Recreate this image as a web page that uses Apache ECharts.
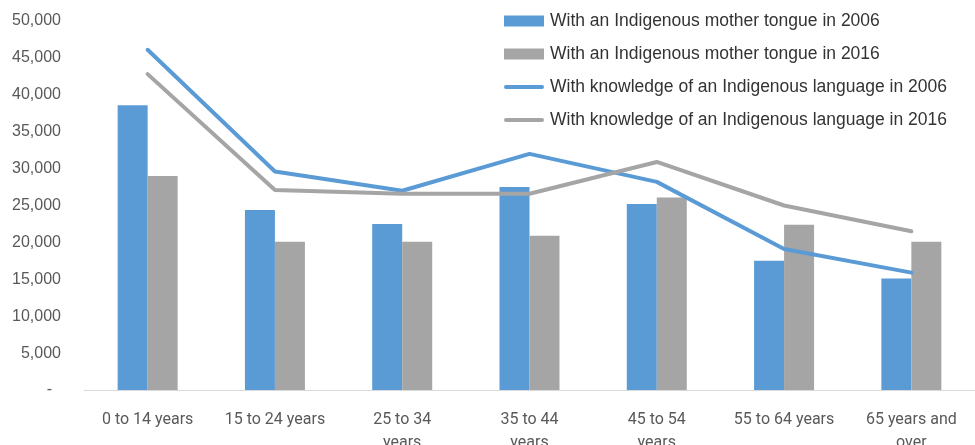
<!DOCTYPE html>
<html>
<head>
<meta charset="utf-8">
<script src="https://cdn.jsdelivr.net/npm/echarts@6/dist/echarts.min.js"></script>
<style>
  html, body { margin: 0; padding: 0; background: #fff; }
  #chart { width: 975px; height: 445px; }
</style>
</head>
<body>
<div id="chart"></div>
<script>
var categories = ['0 to 14 years', '15 to 24 years', '25 to 34\nyears', '35 to 44\nyears', '45 to 54\nyears', '55 to 64 years', '65 years and\nover'];

var mother2006 = [38600, 24400, 22500, 27500, 25200, 17500, 15100];
var mother2016 = [29000, 20100, 20100, 20900, 26100, 22400, 20100];
var knowledge2006 = [46100, 29600, 27000, 32000, 28200, 19100, 15900];
var knowledge2016 = [42800, 27100, 26600, 26600, 30900, 25000, 21500];

var names = [
	'With an Indigenous mother tongue in 2006',
	'With an Indigenous mother tongue in 2016',
	'With knowledge of an Indigenous language in 2006',
	'With knowledge of an Indigenous language in 2016'
];

var blue = '#5B9BD5';
var grey = '#A5A5A5';
var lineIcon = 'path://M2,0 H38 A2,2 0 0 1 38,4 H2 A2,2 0 0 1 2,0 Z';

var chart = echarts.init(document.getElementById('chart'));

var option = {
	animation: false,
	grid: { left: 84, right: 0, top: 21, bottom: 55, outerBoundsMode: 'none', containLabel: false },
	legend: {
		orient: 'vertical',
		left: 499,
		top: 6,
		itemWidth: 40,
		itemHeight: 11,
		itemGap: 13,
		textStyle: {
			fontFamily: 'Liberation Sans',
			fontSize: 17.5,
			color: '#333',
			lineHeight: 20,
			padding: [0, 0, 0, 1]
		},
		data: [
			{ name: names[0], icon: 'rect' },
			{ name: names[1], icon: 'rect' },
			{ name: names[2], icon: lineIcon },
			{ name: names[3], icon: lineIcon }
		]
	},
	xAxis: {
		type: 'category',
		data: categories,
		axisLine: { lineStyle: { color: '#D9D9D9', width: 1 } },
		axisTick: { show: false },
		axisLabel: {
			interval: 0,
			margin: 18,
			fontFamily: 'Roboto',
			fontSize: 16,
			lineHeight: 23,
			color: '#595959'
		}
	},
	yAxis: {
		type: 'value',
		min: 0,
		max: 50000,
		interval: 5000,
		splitLine: { show: false },
		axisLine: { show: false },
		axisTick: { show: false },
		axisLabel: {
			margin: 23,
			fontFamily: 'Liberation Sans',
			fontSize: 16,
			color: '#595959',
			formatter: function (v) {
				return v === 0 ? '-  ' : v.toLocaleString('en-US');
			}
		}
	},
	series: [
		{
			name: names[0],
			type: 'bar',
			barWidth: 30,
			barGap: '0%',
			itemStyle: { color: blue },
			data: mother2006
		},
		{
			name: names[1],
			type: 'bar',
			barWidth: 30,
			barGap: '0%',
			itemStyle: { color: grey },
			data: mother2016
		},
		{
			name: names[2],
			type: 'line',
			symbol: 'none',
			lineStyle: { color: blue, width: 4, cap: 'round' },
			itemStyle: { color: blue },
			data: knowledge2006
		},
		{
			name: names[3],
			type: 'line',
			symbol: 'none',
			lineStyle: { color: grey, width: 4, cap: 'round' },
			itemStyle: { color: grey },
			data: knowledge2016
		}
	]
};

chart.setOption(option);
</script>
</body>
</html>
